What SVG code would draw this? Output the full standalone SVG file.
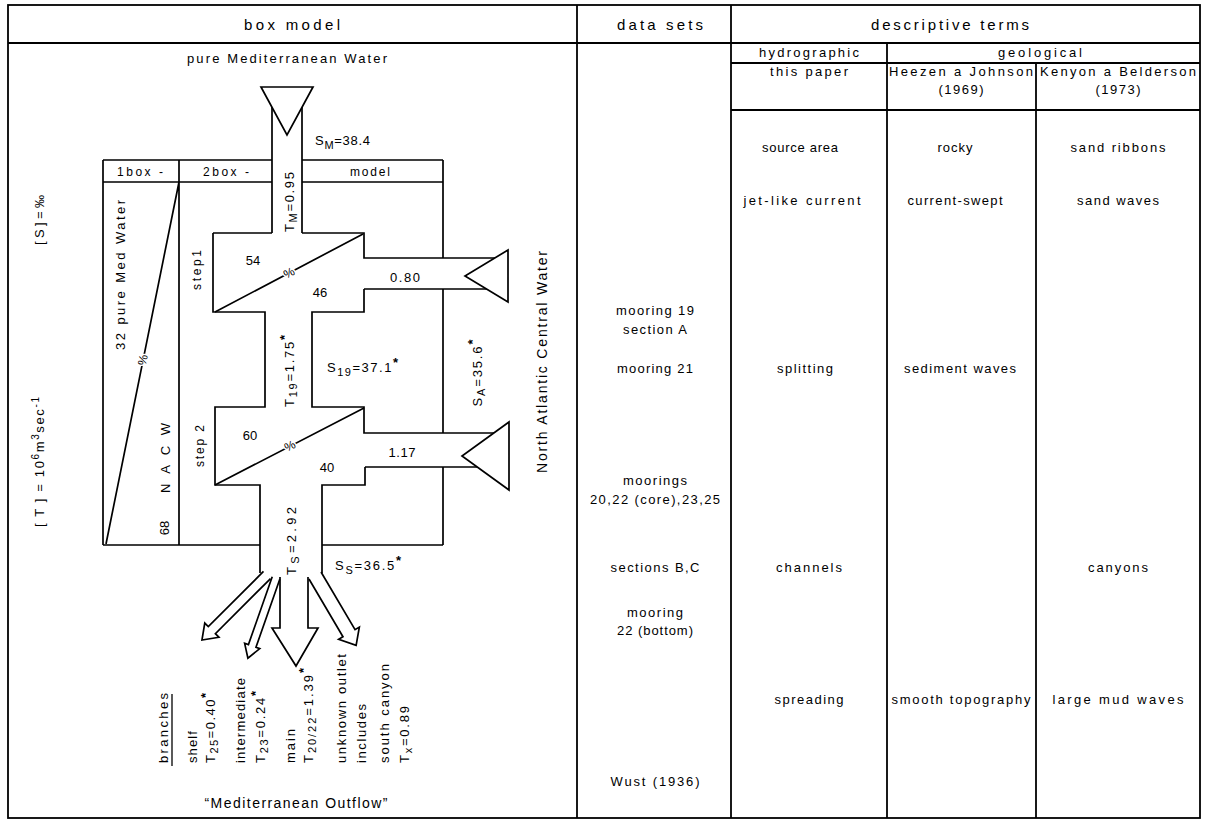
<svg xmlns="http://www.w3.org/2000/svg" width="1205" height="820" viewBox="0 0 1205 820">
<style>
text { font-family: "Liberation Sans", Arial, sans-serif; fill: #000; }
.tb { stroke: #000; stroke-width: 1.8; fill: none; }
.ln { stroke: #000; stroke-width: 1.7; fill: none; stroke-linejoin: miter; }
.tri { stroke: #000; stroke-width: 1.7; fill: #fff; stroke-linejoin: miter; }
.arr { stroke: #000; stroke-width: 1.7; fill: none; stroke-linejoin: miter; }
.f15 { font-size: 15px; }
.f14 { font-size: 14px; }
.f13 { font-size: 13px; }
.f12 { font-size: 12px; }
.mid { text-anchor: middle; }
.pct { font-size: 12px; text-anchor: middle; stroke: #fff; stroke-width: 3px; paint-order: stroke; }
</style>
<rect width="1205" height="820" fill="#fff"/>

<g id="table" class="tb">
  <rect x="8" y="5" width="1192" height="813"/>
  <line x1="8" y1="43" x2="1200" y2="43"/>
  <line x1="577" y1="5" x2="577" y2="818"/>
  <line x1="731" y1="5" x2="731" y2="818"/>
  <line x1="887" y1="43" x2="887" y2="818"/>
  <line x1="1036" y1="63" x2="1036" y2="818"/>
  <line x1="731" y1="63" x2="1200" y2="63"/>
  <line x1="731" y1="110" x2="1200" y2="110"/>
</g>

<g id="headers">
  <text x="292" y="30" class="f15 mid" textLength="96">box model</text>
  <text x="660" y="30" class="f15 mid" textLength="86">data sets</text>
  <text x="950" y="30" class="f15 mid" textLength="158">descriptive terms</text>
  <text x="809" y="57" class="f13 mid" textLength="100">hydrographic</text>
  <text x="1040" y="57" class="f13 mid" textLength="84">geological</text>
  <text x="809" y="76" class="f13 mid" textLength="78">this paper</text>
  <text x="961" y="76" class="f13 mid" textLength="144">Heezen a Johnson</text>
  <text x="961" y="94" class="f13 mid" textLength="45">(1969)</text>
  <text x="1118" y="76" class="f13 mid" textLength="156">Kenyon a Belderson</text>
  <text x="1118" y="94" class="f13 mid" textLength="45">(1973)</text>
</g>

<g id="data-sets" class="f13">
  <text x="655" y="315" class="mid" textLength="78">mooring 19</text>
  <text x="655" y="334" class="mid" textLength="64">section A</text>
  <text x="655" y="373" class="mid" textLength="76">mooring 21</text>
  <text x="655" y="485" class="mid" textLength="64">moorings</text>
  <text x="655" y="504" class="mid" textLength="130">20,22 (core),23,25</text>
  <text x="655" y="572" class="mid" textLength="89">sections B,C</text>
  <text x="655" y="617" class="mid" textLength="56">mooring</text>
  <text x="655" y="635" class="mid" textLength="76">22 (bottom)</text>
  <text x="655" y="786" class="mid" textLength="89">Wust (1936)</text>
</g>

<g id="hydrographic-terms" class="f13">
  <text x="800" y="152" class="mid" textLength="76">source area</text>
  <text x="802" y="205" class="mid" textLength="117">jet-like current</text>
  <text x="805" y="373" class="mid" textLength="56">splitting</text>
  <text x="809" y="572" class="mid" textLength="66">channels</text>
  <text x="809" y="704" class="mid" textLength="69">spreading</text>
</g>

<g id="heezen-terms" class="f13">
  <text x="955" y="152" class="mid" textLength="35">rocky</text>
  <text x="955" y="205" class="mid" textLength="95">current-swept</text>
  <text x="960" y="373" class="mid" textLength="112">sediment waves</text>
  <text x="961" y="704" class="mid" textLength="139">smooth topography</text>
</g>

<g id="kenyon-terms" class="f13">
  <text x="1118" y="152" class="mid" textLength="95">sand ribbons</text>
  <text x="1118" y="205" class="mid" textLength="82">sand waves</text>
  <text x="1118" y="572" class="mid" textLength="60">canyons</text>
  <text x="1118" y="704" class="mid" textLength="131">large mud waves</text>
</g>

<g id="units" class="f13">
  <text transform="translate(44,220) rotate(-90)" class="mid" textLength="50">[ S ] = ‰</text>
  <text transform="translate(44,462) rotate(-90)" class="mid" textLength="130">[ T ] = 10<tspan dy="-5" font-size="10">6</tspan><tspan dy="5">m</tspan><tspan dy="-5" font-size="10">3</tspan><tspan dy="5">sec</tspan><tspan dy="-5" font-size="10">-1</tspan></text>
</g>

<g id="box-model">
  <path class="ln" d="M103,160 H272 M302,160 H443 M103,182 H272 M302,182 H443 M179,160 V182"/>
  <path class="ln" d="M103,160 V545 M179,182 V545 M179,182 L106,544"/>
  <path class="ln" d="M103,545 H260 M322,545 H443"/>
  <path class="ln" d="M443,160 V258 M443,289 V433 M443,467 V545"/>
  <path class="ln" d="M272,100 V233 M302,100 V233"/>
  <path class="ln" d="M213,233 H272 M302,233 H364 V258 H500 M364,289 H500 M364,289 V312 H312 V407 H364 V433 H500 M365,467 H500 M365,467 V485 H322 V573"/>
  <path class="ln" d="M213,233 V312 H265 V407 H215 V485 H260 V573"/>
  <path class="ln" d="M215,312 L363,234 M215,485 L364,408"/>
  <polygon class="tri" points="261,87 313,87 287,135"/>
  <polygon class="tri" points="508,250 508,302 465,276"/>
  <polygon class="tri" points="509,422 509,490 462,456"/>

  <text x="287" y="63" class="f13 mid" textLength="200">pure Mediterranean Water</text>
  <text x="140" y="176" class="f12 mid" textLength="46">1box -</text>
  <text x="226" y="176" class="f12 mid" textLength="46">2box -</text>
  <text x="370" y="176" class="f12 mid" textLength="40">model</text>
  <text x="315" y="145" class="f13" textLength="55">S<tspan dy="4" font-size="11">M</tspan><tspan dy="-4">=38.4</tspan></text>
  <text transform="translate(294,202) rotate(-90)" class="f13 mid" textLength="60">T<tspan dy="3" font-size="11">M</tspan><tspan dy="-3">=0.95</tspan></text>
  <text transform="translate(201,270) rotate(-90)" class="f12 mid" textLength="40">step1</text>
  <text x="253" y="265" class="f13 mid">54</text>
  <text x="320" y="297" class="f13 mid">46</text>
  <text transform="translate(289,273) rotate(-28)" class="pct" y="4">%</text>
  <text x="405" y="282" class="f13 mid" textLength="30">0.80</text>
  <text transform="translate(294,371) rotate(-90)" class="f13 mid" textLength="72">T<tspan dy="3" font-size="11">19</tspan><tspan dy="-3">=1.75</tspan><tspan dy="-5" font-weight="bold">*</tspan></text>
  <text x="327" y="372" class="f13" textLength="71">S<tspan dy="4" font-size="11">19</tspan><tspan dy="-4">=37.1</tspan><tspan dy="-5" font-weight="bold">*</tspan></text>
  <text transform="translate(204,446) rotate(-90)" class="f12 mid" textLength="42">step 2</text>
  <text x="250" y="440" class="f13 mid">60</text>
  <text transform="translate(290,446) rotate(-27)" class="pct" y="4">%</text>
  <text x="327" y="472" class="f13 mid">40</text>
  <text x="402" y="457" class="f13 mid" textLength="27">1.17</text>
  <text transform="translate(482,373) rotate(-90)" class="f13 mid" textLength="67">S<tspan dy="3" font-size="11">A</tspan><tspan dy="-3">=35.6</tspan><tspan dy="-5" font-weight="bold">*</tspan></text>
  <text transform="translate(547,362) rotate(-90)" class="f14 mid" textLength="222">North Atlantic Central Water</text>
  <text transform="translate(125,275) rotate(-90)" class="f13 mid" textLength="150">32 pure Med Water</text>
  <text transform="translate(143,360) rotate(-78.6)" class="pct" y="4">%</text>
  <text transform="translate(170,458) rotate(-90)" class="f13 mid" textLength="70">N A C W</text>
  <text transform="translate(169,528) rotate(-90)" class="f13 mid">68</text>
  <text transform="translate(296,541) rotate(-90)" class="f13 mid" textLength="68">T<tspan dy="3" font-size="11">S</tspan><tspan dy="-3">=2.92</tspan></text>
  <text x="335" y="570" class="f13" textLength="66">S<tspan dy="4" font-size="11">S</tspan><tspan dy="-4">=36.5</tspan><tspan dy="-5" font-weight="bold">*</tspan></text>
</g>

<g id="connectors">
  <polyline class="arr" transform="translate(267,575) rotate(135)" points="0,-5 78,-5 78,-10 92,0 78,10 78,5 0,5"/>
  <polyline class="arr" transform="translate(276,578) rotate(109.3)" points="0,-4 72,-4 72,-8 85,0 72,8 72,4 0,4"/>
  <polyline class="arr" points="280,577 280,628 272,628 296,666 318,628 308,628 308,577"/>
  <polyline class="arr" transform="translate(315,575.5) rotate(59.5)" points="0,-7 67,-7 67,-12 81,0 67,12 67,7 0,7"/>
</g>

<g id="branch-labels" class="f13">
  <text transform="translate(168,763) rotate(-90)" textLength="70">branches</text>
  <line x1="172" y1="694" x2="172" y2="766" stroke="#000" stroke-width="1.3"/>
  <text transform="translate(197,763) rotate(-90)" textLength="32">shelf</text>
  <text transform="translate(215,763) rotate(-90)" textLength="70">T<tspan dy="3" font-size="11">25</tspan><tspan dy="-3">=0.40</tspan><tspan dy="-5" font-weight="bold">*</tspan></text>
  <text transform="translate(245,763) rotate(-90)" textLength="85">intermediate</text>
  <text transform="translate(265,763) rotate(-90)" textLength="72">T<tspan dy="3" font-size="11">23</tspan><tspan dy="-3">=0.24</tspan><tspan dy="-5" font-weight="bold">*</tspan></text>
  <text transform="translate(295,763) rotate(-90)" textLength="34">main</text>
  <text transform="translate(313,763) rotate(-90)" textLength="95">T<tspan dy="3" font-size="11">20/22</tspan><tspan dy="-3">=1.39</tspan><tspan dy="-5" font-weight="bold">*</tspan></text>
  <text transform="translate(346,763) rotate(-90)" textLength="109">unknown outlet</text>
  <text transform="translate(366,763) rotate(-90)" textLength="59">includes</text>
  <text transform="translate(389,763) rotate(-90)" textLength="99">south canyon</text>
  <text transform="translate(409,763) rotate(-90)" textLength="57">T<tspan dy="3" font-size="11">x</tspan><tspan dy="-3">=0.89</tspan></text>
  <text x="296" y="808" class="f14 mid" textLength="183">“Mediterranean Outflow”</text>
</g>
</svg>
